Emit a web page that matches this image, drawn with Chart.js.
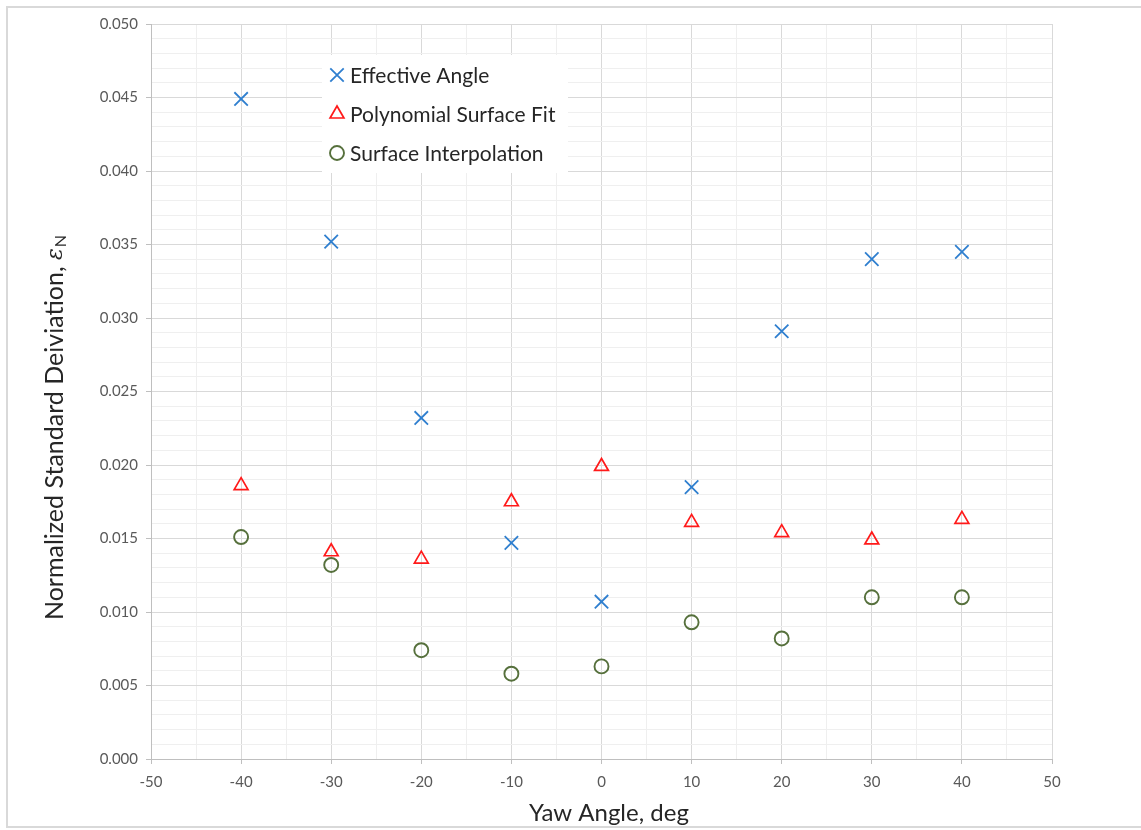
<!DOCTYPE html>
<html>
<head>
<meta charset="utf-8">
<script src="https://cdn.jsdelivr.net/npm/chart.js@4.4.1/dist/chart.umd.min.js"></script>
<style>
  html, body { margin: 0; padding: 0; background: #fff; }
  #wrap { width: 1141px; height: 830px; position: relative; }
</style>
</head>
<body>
<div id="wrap"><canvas id="yawChart" width="1141" height="830"></canvas></div>
<script>
const yawAngles = [-40, -30, -20, -10, 0, 10, 20, 30, 40];
const effectiveAngle = [0.0449, 0.0352, 0.0232, 0.0147, 0.0107, 0.0185, 0.0291, 0.0340, 0.0345];
const polySurfaceFit = [0.0186, 0.0141, 0.0136, 0.0175, 0.0199, 0.0161, 0.0154, 0.0149, 0.0163];
const surfaceInterp = [0.0151, 0.0132, 0.0074, 0.0058, 0.0063, 0.0093, 0.0082, 0.0110, 0.0110];

const seriesNames = ['Effective Angle', 'Polynomial Surface Fit', 'Surface Interpolation'];
const FONT = 'Lato, "Open Sans", sans-serif';

function pts(ys) { return yawAngles.map((x, i) => ({x: x, y: ys[i]})); }

// legend box, axis titles and frame are drawn by hand
const extras = {
    id: 'extras',
    afterDraw(chart) {
        const ctx = chart.ctx;
        const area = chart.chartArea;
        ctx.save();

        // outer frame
        ctx.strokeStyle = '#d9d9d9';
        ctx.lineWidth = 2;
        ctx.beginPath();
        ctx.moveTo(1141, 7); ctx.lineTo(7, 7); ctx.lineTo(7, 827); ctx.lineTo(1141, 827);
        ctx.stroke();

        // legend
        ctx.fillStyle = '#fff';
        ctx.fillRect(322, 55, 246, 118);
        const rowY = [75, 114, 153];
        chart.data.datasets.forEach((ds, i) => {
            const y = rowY[i];
            ctx.strokeStyle = ds.borderColor;
            ctx.fillStyle = 'rgba(0,0,0,0)';
            ctx.lineWidth = ds.borderWidth;
            Chart.helpers.drawPoint(ctx, {
                pointStyle: ds.pointStyle, radius: ds.pointRadius, borderWidth: ds.borderWidth
            }, 337, y);
            ctx.fillStyle = '#262626';
            ctx.font = '21px ' + FONT;
            ctx.textBaseline = 'middle';
            ctx.textAlign = 'left';
            ctx.fillText(ds.label, 350, y + 1);
        });

        // x title
        ctx.fillStyle = '#262626';
        ctx.font = '24px ' + FONT;
        ctx.textAlign = 'center';
        ctx.textBaseline = 'middle';
        ctx.fillText('Yaw Angle, deg', 609, 813);

        // y title with subscript
        ctx.translate(55, 428);
        ctx.rotate(-Math.PI / 2);
        const main = 'Normalized Standard Deiviation, ';
        ctx.font = '25px ' + FONT;
        const w1 = ctx.measureText(main).width;
        ctx.font = 'italic 22px "DejaVu Serif", serif';
        const w2 = ctx.measureText('ε').width;
        ctx.font = '16px ' + FONT;
        const w3 = ctx.measureText('N').width;
        const x0 = -(w1 + w2 + w3) / 2;
        ctx.textAlign = 'left';
        ctx.font = '25px ' + FONT;
        ctx.fillText(main, x0, 0);
        ctx.font = 'italic 22px "DejaVu Serif", serif';
        ctx.fillText('ε', x0 + w1, 1);
        ctx.font = '16px ' + FONT;
        ctx.fillText('N', x0 + w1 + w2 + 1, 6);
        ctx.restore();
    }
};

const isMajorX = v => Math.round(v) % 10 === 0;
const isMajorY = v => Math.round(v * 1000) % 5 === 0;

new Chart(document.getElementById('yawChart'), {
    type: 'scatter',
    data: {
        datasets: [
            { label: seriesNames[0], data: pts(effectiveAngle), pointStyle: 'crossRot', pointRadius: 9.5,
              borderColor: '#2f7fcf', backgroundColor: 'rgba(0,0,0,0)', borderWidth: 1.8 },
            { label: seriesNames[1], data: pts(polySurfaceFit), pointStyle: 'triangle', pointRadius: 8,
              borderColor: '#ff1a1a', backgroundColor: 'rgba(0,0,0,0)', borderWidth: 1.7 },
            { label: seriesNames[2], data: pts(surfaceInterp), pointStyle: 'circle', pointRadius: 7,
              borderColor: '#56703c', backgroundColor: 'rgba(0,0,0,0)', borderWidth: 1.9 }
        ]
    },
    options: {
        responsive: false,
        animation: false,
        layout: { padding: { top: 24, right: 89, left: 0, bottom: 0 } },
        plugins: { legend: { display: false }, tooltip: { enabled: false } },
        scales: {
            x: {
                type: 'linear', min: -50, max: 50,
                afterFit(s) { s.height = 71; },
                border: { color: '#bfbfbf' },
                grid: {
                    color: c => isMajorX(c.tick.value) ? '#d9d9d9' : '#efefef',
                    tickColor: c => isMajorX(c.tick.value) ? '#bfbfbf' : 'rgba(0,0,0,0)',
                    tickLength: 5
                },
                ticks: {
                    stepSize: 5, autoSkip: false, maxRotation: 0, padding: 9,
                    color: '#595959', font: { family: FONT, size: 15 },
                    callback: v => isMajorX(v) ? String(v) : ''
                }
            },
            y: {
                type: 'linear', min: 0, max: 0.05,
                afterFit(s) { s.width = 151; },
                border: { color: '#bfbfbf' },
                grid: {
                    color: c => isMajorY(c.tick.value) ? '#d9d9d9' : '#efefef',
                    tickColor: c => isMajorY(c.tick.value) ? '#bfbfbf' : 'rgba(0,0,0,0)',
                    tickLength: 5
                },
                ticks: {
                    stepSize: 0.001, autoSkip: false, padding: 8,
                    color: '#595959', font: { family: FONT, size: 15 },
                    callback: v => isMajorY(v) ? v.toFixed(3) : ''
                }
            }
        }
    },
    plugins: [extras]
});
</script>
</body>
</html>
